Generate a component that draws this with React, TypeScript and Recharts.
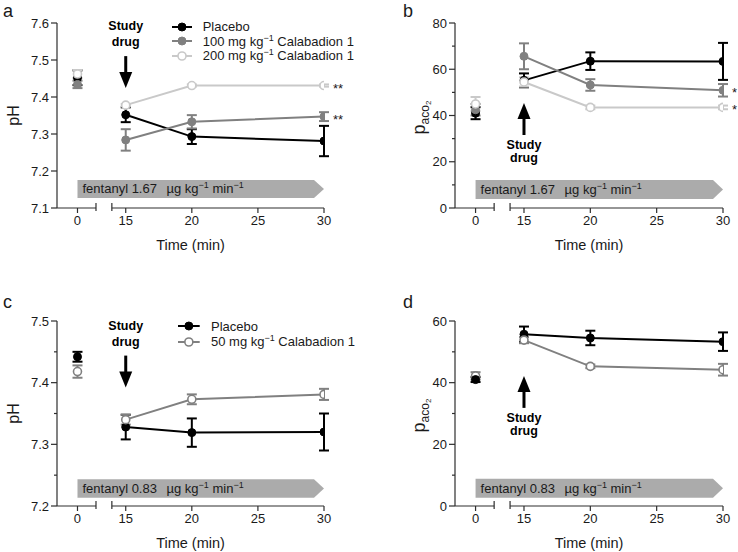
import React from 'react';
import {
  LineChart,
  Line,
  XAxis,
  YAxis,
  ErrorBar,
  ReferenceLine,
  ReferenceArea,
  ReferenceDot,
  Legend,
} from 'recharts';

const FONT = '"Liberation Sans", Arial, Helvetica, sans-serif';
const INK = '#1a1a1a';
const AXIS = '#2e2e2e';
const BLACK = '#000000';
const GREY = '#808080';
const LIGHT = '#c9c9c9';
const BAR = '#ababab';

// broken time axis: baseline "0" is drawn left of the break
const ZERO_AT = 11.35;
const X_MIN = 9.8;
const BREAK_L = 12.75;
const BREAK_R = 13.95;

const times = [0, 15, 20, 30];
const timeTicks = [0, 15, 20, 25, 30];

// a – pH, fentanyl 1.67
const phPlaceboHi = [7.452, 7.352, 7.293, 7.281];
const phPlaceboHiErr = [0.02, 0.02, 0.02, 0.041];
const ph100 = [7.434, 7.284, 7.333, 7.347];
const ph100Err = [0.01, 0.029, 0.018, 0.012];
const ph200 = [7.462, 7.378, 7.431, 7.431];
const ph200Err = [0.011, 0.003, 0.003, 0.003];

// b – PaCO2, fentanyl 1.67
const co2PlaceboHi = [41, 55.2, 63.5, 63.4];
const co2PlaceboHiErr = [2.6, 3, 3.8, 8];
const co2Dose100 = [42.5, 65.6, 53.2, 50.9];
const co2Dose100Err = [2.5, 5.6, 2.5, 2.7];
const co2Dose200 = [45, 54.5, 43.5, 43.5];
const co2Dose200Err = [3, 2, 0.8, 0.8];

// c – pH, fentanyl 0.83
const phPlaceboLo = [7.442, 7.328, 7.319, 7.32];
const phPlaceboLoErr = [0.008, 0.02, 0.023, 0.03];
const ph50 = [7.418, 7.34, 7.373, 7.381];
const ph50Err = [0.01, 0.008, 0.008, 0.009];

// d – PaCO2, fentanyl 0.83
const co2PlaceboLo = [41, 55.7, 54.5, 53.3];
const co2PlaceboLoErr = [0.8, 2.5, 2.35, 3];
const co2Dose50 = [42.2, 53.8, 45.3, 44.2];
const co2Dose50Err = [1.2, 1, 0.6, 1.9];

const labelPlacebo = ['Placebo'];
const label50 = ['50 mg kg', '−1', ' Calabadion 1'];
const label100 = ['100 mg kg', '−1', ' Calabadion 1'];
const label200 = ['200 mg kg', '−1', ' Calabadion 1'];

const phTicksA = [7.1, 7.2, 7.3, 7.4, 7.5, 7.6];
const co2TicksB = [0, 20, 40, 60, 80];
const co2MinorB = [10, 30, 50, 70];
const phTicksC = [7.2, 7.3, 7.4, 7.5];
const phMinorC = [7.25, 7.35, 7.45];
const co2TicksD = [0, 20, 40, 60];
const co2MinorD = [10, 30, 50];

const xPos = (t: number) => (t === 0 ? ZERO_AT : t);

type Series = { label: string[]; values: number[]; errors: number[]; color: string; open?: boolean };

type PanelProps = {
  letter: string;
  left: number;
  top: number;
  width: number;
  marginTop: number;
  marginRight: number;
  yAxisWidth: number;
  yMajor: number[];
  yMinor: number[];
  digits: number;
  yLabel: 'pH' | 'co2';
  series: Series[];
  baseOrder: number[];
  trendOrder: number[];
  dose: string;
  bar: [number, number];
  arrowY: number;
  arrowDir: 'down' | 'up';
  stars: { s: number; text: string }[];
  legend?: { top: number; left: number; gap: number; line: number };
};

const H = 276;
const PLOT_H = 185;
const X_AXIS_H = 44;

function Panel(p: PanelProps) {
  const yMin = p.yMajor[0];
  const yMax = p.yMajor[p.yMajor.length - 1];
  const unit = (yMax - yMin) / PLOT_H;
  const rows = (s: Series) => times.map((t, i) => ({ x: xPos(t), y: s.values[i], e: s.errors[i] }));
  const dot = (s: Series) => ({
    r: 4,
    fill: s.open ? '#ffffff' : s.color,
    stroke: s.color,
    strokeWidth: s.open ? 1.6 : 1,
  });
  const isMajor = (v: number) => p.yMajor.some((m) => Math.abs(m - v) < 1e-6);

  const yTick = (props: any) => {
    const { y, payload } = props;
    const ax = p.yAxisWidth;
    const major = isMajor(payload.value);
    return (
      <g>
        <line x1={ax - (major ? 6 : 3)} x2={ax} y1={y} y2={y} stroke={AXIS} strokeWidth={1.2} />
        {major && (
          <text x={ax - 8} y={y + 4.5} textAnchor="end" fontSize={13} fill={INK} fontFamily={FONT}>
            {payload.value.toFixed(p.digits)}
          </text>
        )}
      </g>
    );
  };

  const yLabel = (props: any) => {
    const vb = props.viewBox || {};
    const cy = (vb.y ?? p.marginTop) + (vb.height ?? PLOT_H) / 2;
    if (p.yLabel === 'pH') {
      return (
        <text x={19} y={cy} transform={`rotate(-90 19 ${cy})`} textAnchor="middle" fontSize={16} fill={INK} fontFamily={FONT}>
          pH
        </text>
      );
    }
    const x = p.yAxisWidth - 30;
    return (
      <text x={x} y={cy + 2} transform={`rotate(-90 ${x} ${cy + 2})`} textAnchor="middle" fontSize={18} fill={INK} fontFamily={FONT}>
        p
        <tspan fontSize={12} dy={4}>aco</tspan>
        <tspan fontSize={8} dy={2}>2</tspan>
      </text>
    );
  };

  const arrow = ({ cx, cy }: any) => {
    const down = p.arrowDir === 'down';
    const sgn = down ? -1 : 1;
    const textProps = { textAnchor: 'middle' as const, fontSize: 12.5, fontWeight: 'bold', fill: BLACK, fontFamily: FONT };
    return (
      <g>
        <line x1={cx} x2={cx} y1={cy + sgn * 14} y2={cy + sgn * 32} stroke={BLACK} strokeWidth={3} />
        <polygon points={`${cx - 6.5},${cy + sgn * 16} ${cx + 6.5},${cy + sgn * 16} ${cx},${cy}`} fill={BLACK} />
        {down ? (
          <>
            <text x={cx} y={cy - 58} {...textProps}>Study</text>
            <text x={cx} y={cy - 42} {...textProps}>drug</text>
          </>
        ) : (
          <>
            <text x={cx} y={cy + 46} {...textProps}>Study</text>
            <text x={cx} y={cy + 59} {...textProps}>drug</text>
          </>
        )}
      </g>
    );
  };

  const fentanyl = ({ x, y, width, height }: any) => (
    <g>
      <polygon
        points={`${x},${y} ${x + width - 10},${y} ${x + width},${y + height / 2} ${x + width - 10},${y + height} ${x},${y + height}`}
        fill={BAR}
      />
      <text x={x + 5} y={y + height / 2 + 4.5} fontSize={13} fill={INK} fontFamily={FONT}>
        fentanyl {p.dose}
      </text>
      <text x={x + 89} y={y + height / 2 + 4.5} fontSize={13} fill={INK} fontFamily={FONT}>
        µg kg
        <tspan fontSize={9} dy={-5}>−1</tspan>
        <tspan dy={5}> min</tspan>
        <tspan fontSize={9} dy={-5}>−1</tspan>
      </text>
    </g>
  );

  const legendContent = () => (
    <div style={{ fontFamily: FONT, fontSize: 13, color: INK }}>
      {p.series.map((s, i) => (
        <div key={i} style={{ display: 'flex', alignItems: 'center', height: p.legend!.gap, whiteSpace: 'nowrap' }}>
          <svg width={p.legend!.line + 11} height={12} style={{ flex: 'none' }}>
            <line x1={0} x2={p.legend!.line} y1={6} y2={6} stroke={s.color} strokeWidth={2} />
            <circle cx={p.legend!.line / 2} cy={6} r={4} fill={s.open ? '#fff' : s.color} stroke={s.color} strokeWidth={s.open ? 1.6 : 1} />
          </svg>
          <span>
            {s.label[0]}
            {s.label[1] && <span style={{ fontSize: 9, position: 'relative', top: -5 }}>{s.label[1]}</span>}
            {s.label[2]}
          </span>
        </div>
      ))}
    </div>
  );

  const seg = (x1: number, y1: number, x2: number, y2: number, key: string) => (
    <ReferenceLine
      key={key}
      segment={[{ x: x1, y: y1 }, { x: x2, y: y2 }]}
      stroke={AXIS}
      strokeWidth={1.2}
      ifOverflow="visible"
    />
  );

  return (
    <div style={{ position: 'absolute', left: p.left, top: p.top, width: p.width, height: H }}>
      <LineChart
        width={p.width}
        height={H}
        margin={{ top: p.marginTop, right: p.marginRight, bottom: H - p.marginTop - PLOT_H - X_AXIS_H, left: 0 }}
      >
        <XAxis
          type="number"
          dataKey="x"
          domain={[X_MIN, 30]}
          allowDataOverflow
          ticks={timeTicks.map(xPos)}
          interval={0}
          tickFormatter={(v: number) => (Math.abs(v - ZERO_AT) < 1e-6 ? '0' : String(v))}
          axisLine={false}
          tickLine={{ stroke: AXIS, strokeWidth: 1.2 }}
          tickSize={5}
          tickMargin={3}
          tick={{ fontSize: 13, fill: INK, fontFamily: FONT }}
          height={X_AXIS_H}
          label={{ value: 'Time (min)', position: 'insideBottom', offset: 2, fontSize: 14.5, fill: INK, fontFamily: FONT }}
        />
        <YAxis
          type="number"
          domain={[yMin, yMax]}
          allowDataOverflow
          ticks={[...p.yMajor, ...p.yMinor].sort((a, b) => a - b)}
          interval={0}
          width={p.yAxisWidth}
          axisLine={{ stroke: AXIS, strokeWidth: 1.2 }}
          tickLine={false}
          tick={yTick}
          label={yLabel}
        />
        {seg(X_MIN, yMin, BREAK_L, yMin, 'ax1')}
        {seg(BREAK_R, yMin, 30, yMin, 'ax2')}
        {seg(BREAK_L, yMin - 3 * unit, BREAK_L, yMin + 5 * unit, 'br1')}
        {seg(BREAK_R, yMin - 3 * unit, BREAK_R, yMin + 5 * unit, 'br2')}
        <ReferenceArea x1={ZERO_AT} x2={30} y1={p.bar[0]} y2={p.bar[1]} shape={fentanyl} ifOverflow="visible" />
        <ReferenceDot x={15} y={p.arrowY} r={0} shape={arrow} ifOverflow="visible" />
        {p.baseOrder.map((i) => {
          const s = p.series[i];
          return (
            <Line
              key={'base' + i}
              data={rows(s).slice(0, 1)}
              dataKey="y"
              stroke={s.color}
              strokeWidth={2}
              dot={dot(s)}
              activeDot={false}
              isAnimationActive={false}
            >
              <ErrorBar dataKey="e" width={5} stroke={s.color} strokeWidth={2} direction="y" />
            </Line>
          );
        })}
        {p.trendOrder.map((i) => {
          const s = p.series[i];
          return (
            <Line
              key={'trend' + i}
              data={rows(s).slice(1)}
              dataKey="y"
              type="linear"
              stroke={s.color}
              strokeWidth={2}
              dot={dot(s)}
              activeDot={false}
              isAnimationActive={false}
            >
              <ErrorBar dataKey="e" width={5} stroke={s.color} strokeWidth={2} direction="y" />
            </Line>
          );
        })}
        {p.stars.map((st, k) => (
          <ReferenceDot
            key={'star' + k}
            x={30}
            y={p.series[st.s].values[3]}
            r={0}
            ifOverflow="visible"
            shape={({ cx, cy }: any) => (
              <text x={cx + 9} y={cy + 7} fontSize={13} fill={INK} fontFamily={FONT}>
                {st.text}
              </text>
            )}
          />
        ))}
        {p.legend && (
          <Legend
            layout="vertical"
            align="center"
            verticalAlign="middle"
            wrapperStyle={{ top: p.legend.top, left: p.legend.left, width: 200, height: 'auto' }}
            content={legendContent}
          />
        )}
      </LineChart>
      <div
        style={{
          position: 'absolute',
          left: p.letter === 'a' || p.letter === 'c' ? 3 : 35,
          top: p.letter === 'a' || p.letter === 'b' ? 2 : 17,
          fontSize: 18,
          lineHeight: '18px',
          fontFamily: FONT,
          color: INK,
        }}
      >
        {p.letter}
      </div>
    </div>
  );
}

export default function App() {
  return (
    <div style={{ position: 'relative', width: 738, height: 552, background: '#ffffff', overflow: 'hidden' }}>
      <style>{'body{margin:0}'}</style>
      <Panel
        letter="a"
        left={0}
        top={0}
        width={369}
        marginTop={23}
        marginRight={45}
        yAxisWidth={57}
        yMajor={phTicksA}
        yMinor={[]}
        digits={1}
        yLabel="pH"
        series={[
          { label: labelPlacebo, values: phPlaceboHi, errors: phPlaceboHiErr, color: BLACK },
          { label: label100, values: ph100, errors: ph100Err, color: GREY },
          { label: label200, values: ph200, errors: ph200Err, color: LIGHT, open: true },
        ]}
        baseOrder={[0, 1, 2]}
        trendOrder={[0, 1, 2]}
        dose="1.67"
        bar={[7.127, 7.176]}
        arrowY={7.424}
        arrowDir="down"
        stars={[
          { s: 2, text: '**' },
          { s: 1, text: '**' },
        ]}
        legend={{ top: 19.3, left: 171.7, gap: 14.5, line: 20 }}
      />
      <Panel
        letter="b"
        left={368}
        top={0}
        width={370}
        marginTop={23}
        marginRight={15}
        yAxisWidth={87}
        yMajor={co2TicksB}
        yMinor={co2MinorB}
        digits={0}
        yLabel="co2"
        series={[
          { label: labelPlacebo, values: co2PlaceboHi, errors: co2PlaceboHiErr, color: BLACK },
          { label: label100, values: co2Dose100, errors: co2Dose100Err, color: GREY },
          { label: label200, values: co2Dose200, errors: co2Dose200Err, color: LIGHT, open: true },
        ]}
        baseOrder={[0, 1, 2]}
        trendOrder={[0, 1, 2]}
        dose="1.67"
        bar={[3.9, 12.1]}
        arrowY={45.4}
        arrowDir="up"
        stars={[
          { s: 1, text: '*' },
          { s: 2, text: '*' },
        ]}
      />
      <Panel
        letter="c"
        left={0}
        top={276}
        width={369}
        marginTop={45}
        marginRight={45}
        yAxisWidth={57}
        yMajor={phTicksC}
        yMinor={phMinorC}
        digits={1}
        yLabel="pH"
        series={[
          { label: labelPlacebo, values: phPlaceboLo, errors: phPlaceboLoErr, color: BLACK },
          { label: label50, values: ph50, errors: ph50Err, color: GREY, open: true },
        ]}
        baseOrder={[1, 0]}
        trendOrder={[0, 1]}
        dose="0.83"
        bar={[7.2135, 7.2433]}
        arrowY={7.392}
        arrowDir="down"
        stars={[]}
        legend={{ top: 42.2, left: 178.3, gap: 15.7, line: 21.7 }}
      />
      <Panel
        letter="d"
        left={368}
        top={276}
        width={370}
        marginTop={45}
        marginRight={15}
        yAxisWidth={87}
        yMajor={co2TicksD}
        yMinor={co2MinorD}
        digits={0}
        yLabel="co2"
        series={[
          { label: labelPlacebo, values: co2PlaceboLo, errors: co2PlaceboLoErr, color: BLACK },
          { label: label50, values: co2Dose50, errors: co2Dose50Err, color: GREY, open: true },
        ]}
        baseOrder={[1, 0]}
        trendOrder={[0, 1]}
        dose="0.83"
        bar={[2.7, 8.86]}
        arrowY={42.2}
        arrowDir="up"
        stars={[]}
      />
    </div>
  );
}
